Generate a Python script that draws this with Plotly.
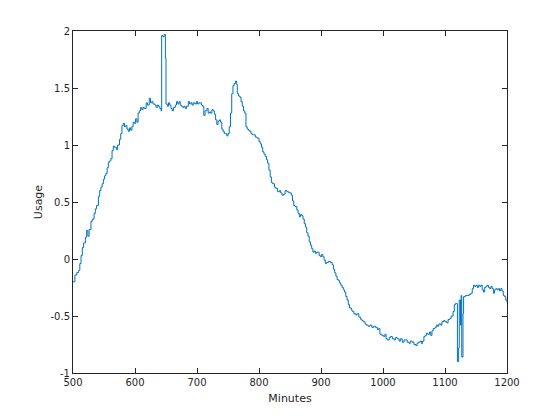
import plotly.graph_objects as go

minutes = [500,503,506,509,511,513,515,517,520,522,524,526,529,531,534,536,538,541,543,545,547,549,551,553,555,557,559,561,563,565,567,570,572,575,577,579,581,583,585,587,589,591,593,595,597,599,601,603,605,607,609,611,613,615,618,620,623,625,627,629,632,634,636,638,640,642,643,645,647,649,650,652,654,656,658,660,662,665,667,669,671,673,675,677,679,681,683,686,688,690,692,694,697,699,701,703,705,707,709,711,713,716,718,720,722,724,726,728,730,732,734,736,738,740,742,744,746,748,750,752,754,756,758,760,762,764,765,767,769,771,773,775,777,779,781,783,785,787,789,791,794,797,800,802,804,806,808,810,812,814,816,818,820,822,825,827,830,833,835,837,840,842,845,848,850,852,854,856,858,861,863,865,867,869,871,873,875,877,879,881,883,885,887,889,891,893,895,897,899,901,903,905,907,909,912,915,918,920,922,924,926,928,930,932,934,936,938,940,942,944,946,949,951,953,956,958,961,964,966,968,971,973,976,979,982,985,988,991,993,995,998,1001,1003,1005,1007,1010,1012,1015,1018,1020,1023,1026,1028,1031,1034,1037,1039,1042,1044,1047,1050,1053,1055,1057,1060,1062,1064,1066,1068,1070,1072,1075,1077,1079,1081,1084,1086,1088,1090,1093,1095,1098,1100,1103,1105,1108,1110,1113,1115,1117,1119,1120,1122,1123,1125,1126,1127,1129,1130,1133,1136,1139,1142,1144,1146,1148,1150,1152,1154,1156,1158,1160,1162,1164,1166,1168,1170,1172,1174,1176,1178,1180,1182,1184,1186,1188,1190,1192,1194,1196,1198,1200]

usage = [-0.20,-0.14,-0.12,-0.10,-0.04,0.03,0.10,0.14,0.19,0.25,0.20,0.26,0.33,0.35,0.40,0.44,0.47,0.55,0.60,0.63,0.66,0.70,0.73,0.75,0.80,0.85,0.86,0.88,0.95,0.99,0.98,0.96,1.00,1.05,1.10,1.17,1.19,1.16,1.17,1.14,1.12,1.15,1.13,1.16,1.20,1.19,1.23,1.20,1.28,1.30,1.33,1.31,1.33,1.32,1.37,1.35,1.41,1.37,1.38,1.36,1.35,1.33,1.35,1.34,1.32,1.30,1.96,1.95,1.97,1.76,1.36,1.34,1.37,1.35,1.32,1.30,1.33,1.35,1.38,1.36,1.38,1.35,1.34,1.33,1.34,1.32,1.34,1.38,1.36,1.37,1.35,1.37,1.36,1.38,1.36,1.37,1.37,1.35,1.34,1.26,1.30,1.32,1.28,1.29,1.28,1.31,1.30,1.27,1.22,1.18,1.21,1.22,1.20,1.14,1.12,1.10,1.10,1.08,1.10,1.16,1.28,1.45,1.52,1.54,1.56,1.53,1.45,1.43,1.42,1.38,1.34,1.30,1.28,1.16,1.14,1.13,1.12,1.10,1.09,1.09,1.07,1.06,1.03,1.01,0.98,0.94,0.92,0.90,0.87,0.84,0.78,0.72,0.67,0.66,0.63,0.62,0.59,0.60,0.58,0.56,0.57,0.60,0.59,0.58,0.58,0.56,0.51,0.47,0.46,0.43,0.40,0.37,0.39,0.38,0.35,0.31,0.28,0.23,0.20,0.15,0.12,0.09,0.06,0.07,0.05,0.06,0.06,0.03,0.02,0.04,0.02,-0.01,-0.04,-0.03,-0.02,-0.03,-0.05,-0.09,-0.12,-0.15,-0.18,-0.19,-0.21,-0.23,-0.25,-0.27,-0.29,-0.33,-0.36,-0.40,-0.43,-0.45,-0.46,-0.48,-0.49,-0.48,-0.51,-0.53,-0.54,-0.55,-0.57,-0.58,-0.59,-0.58,-0.60,-0.59,-0.60,-0.62,-0.61,-0.66,-0.67,-0.68,-0.66,-0.70,-0.71,-0.69,-0.68,-0.70,-0.71,-0.69,-0.70,-0.72,-0.70,-0.73,-0.71,-0.71,-0.73,-0.74,-0.72,-0.73,-0.75,-0.76,-0.74,-0.73,-0.72,-0.74,-0.72,-0.68,-0.67,-0.65,-0.66,-0.64,-0.67,-0.63,-0.61,-0.60,-0.58,-0.59,-0.57,-0.58,-0.55,-0.54,-0.55,-0.56,-0.53,-0.52,-0.50,-0.46,-0.40,-0.39,-0.39,-0.90,-0.78,-0.36,-0.58,-0.32,-0.86,-0.48,-0.33,-0.32,-0.32,-0.31,-0.30,-0.26,-0.23,-0.24,-0.23,-0.25,-0.23,-0.24,-0.23,-0.27,-0.29,-0.25,-0.24,-0.23,-0.25,-0.26,-0.24,-0.26,-0.30,-0.27,-0.26,-0.27,-0.26,-0.28,-0.26,-0.28,-0.32,-0.33,-0.36,-0.38]

x_ticks = [500, 600, 700, 800, 900, 1000, 1100, 1200]
y_ticks = [-1, -0.5, 0, 0.5, 1, 1.5, 2]
y_ticklabels = ["-1", "-0.5", "0", "0.5", "1", "1.5", "2"]

fig = go.Figure()
fig.add_trace(go.Scatter(x=minutes, y=usage, mode="lines",
                         line=dict(color="#0072BD", width=1, shape="hv"),
                         showlegend=False, hoverinfo="skip"))

axis_common = dict(showline=True, linecolor="#262626", linewidth=1, mirror="ticks",
                   ticks="inside", ticklen=5, tickcolor="#262626", tickwidth=1,
                   showgrid=False, zeroline=False, automargin=False,
                   tickfont=dict(family="DejaVu Sans", size=10, color="#262626"))

fig.update_layout(
    width=560, height=420,
    margin=dict(l=65, r=61, t=23, b=55),
    paper_bgcolor="white", plot_bgcolor="white",
    font=dict(family="DejaVu Sans", color="#262626"),
    xaxis=dict(range=[500, 1200], tickvals=x_ticks, ticktext=[str(v) for v in x_ticks],
               title=dict(text="Minutes", font=dict(size=11, color="#262626"), standoff=7),
               **axis_common),
    yaxis=dict(range=[-1, 2], tickvals=y_ticks, ticktext=y_ticklabels,
               title=dict(text="Usage", font=dict(size=11, color="#262626"), standoff=5),
               **axis_common),
)

fig.write_html("out.html")
